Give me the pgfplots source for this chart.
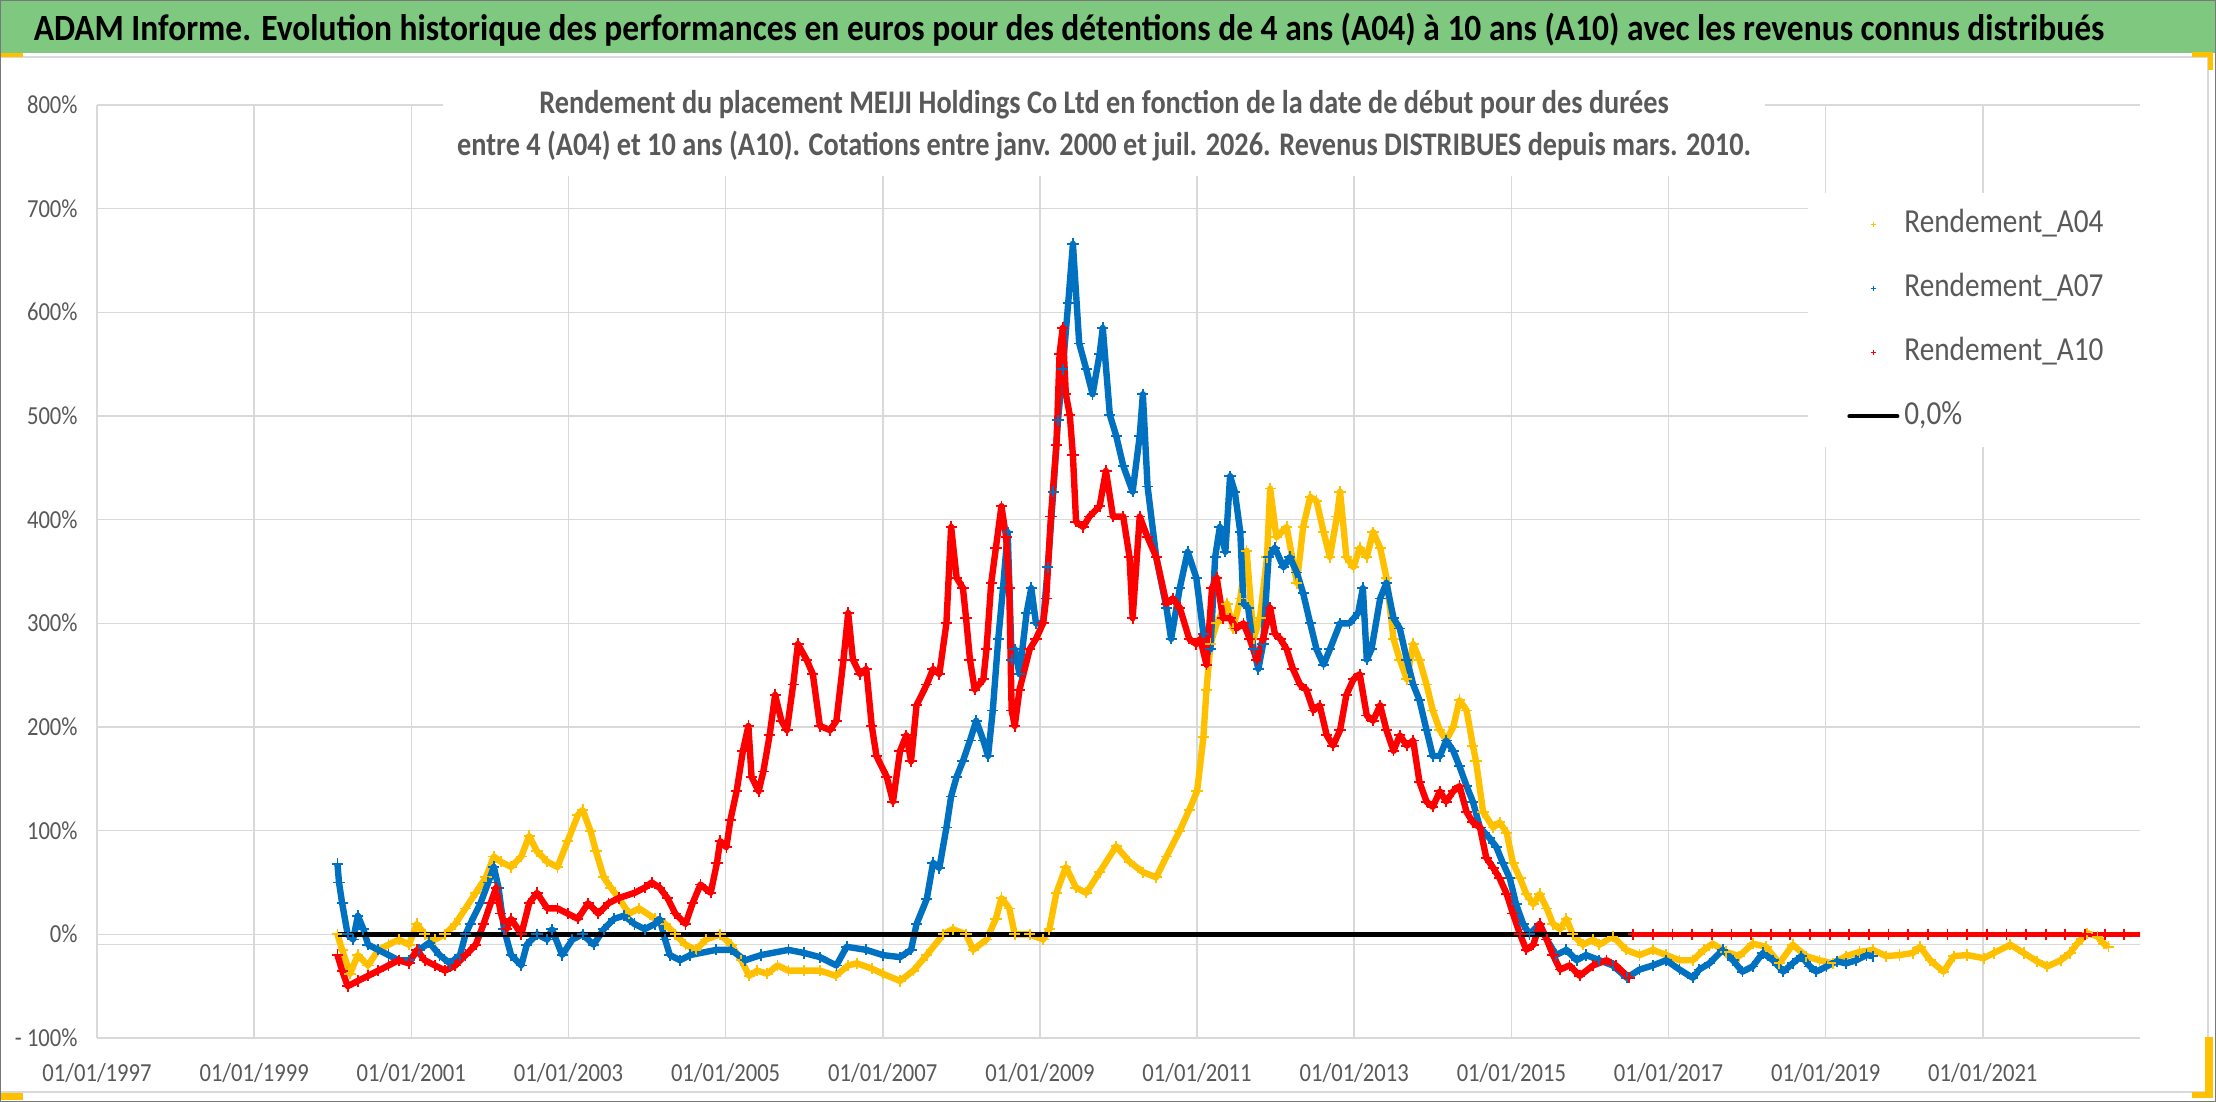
\documentclass[border=0pt]{standalone}
\usepackage{fontspec}
\setmainfont{Carlito}
\newfontfamily\tickf{Carlito}[FakeStretch=0.87]
\newfontfamily\legf{Carlito}[FakeStretch=0.87]
\newfontfamily\subf{Carlito}[FakeStretch=0.857]
\newfontfamily\titf{Carlito}[FakeStretch=0.905]
\usepackage{pgfplots}
\pgfplotsset{compat=1.18}
\usepackage{pgfplotstable}

\definecolor{cYel}{RGB}{255,192,0}
\definecolor{cBlu}{RGB}{0,112,192}
\definecolor{cRed}{RGB}{255,0,0}
\definecolor{cTxt}{RGB}{89,89,89}
\definecolor{cGrid}{RGB}{217,217,217}
\definecolor{cGreen}{RGB}{126,200,128}
\definecolor{cFrame}{RGB}{120,120,120}
\definecolor{cHandle}{RGB}{255,192,0}

\pgfplotsset{
  markleg/.style={legend image code/.code={\path (0pt,0pt) (24pt,0pt); \draw[##1, mark size=1.4pt, mark options={line width=0.6pt}] plot coordinates {(12pt,0pt)};}},
  lineleg/.style={legend image code/.code={\draw[##1, line width=2pt, line cap=round] (0pt,0pt) -- (24pt,0pt);}},
  bandline/.style={line width=3.2pt, line join=round, forget plot},
  bandmarks/.style={only marks, mark=+, mark size=2.8pt, mark options={line width=0.9pt}, markleg},
}

\pgfplotstableread{
x y
2000.06 0
2000.12 -15
2000.22 -38
2000.32 -20
2000.45 -30
2000.58 -15
2000.71 -10
2000.84 -5
2000.97 -10
2001.07 10
2001.17 0
2001.30 -5
2001.43 0
2001.56 10
2001.69 25
2001.82 40
2001.95 55
2002.05 75
2002.14 70
2002.27 65
2002.40 75
2002.50 95
2002.60 80
2002.73 70
2002.86 65
2002.99 90
2003.12 115
2003.18 120
2003.28 100
2003.35 80
2003.45 55
2003.54 45
2003.64 35
2003.77 20
2003.90 25
2004.10 15
2004.23 10
2004.36 0
2004.49 -10
2004.62 -15
2004.75 -5
2004.93 0
2005.07 -10
2005.20 -25
2005.30 -40
2005.40 -35
2005.53 -38
2005.66 -30
2005.80 -35
2006.00 -35
2006.20 -35
2006.40 -40
2006.56 -30
2006.67 -28
2006.86 -33
2007.00 -38
2007.22 -45
2007.39 -35
2007.56 -20
2007.77 0
2007.89 5
2008.06 0
2008.15 -15
2008.32 -5
2008.44 15
2008.51 35
2008.61 25
2008.68 0
2008.87 0
2009.04 -5
2009.12 5
2009.21 40
2009.33 65
2009.46 45
2009.59 40
2009.76 60
2009.97 85
2010.14 70
2010.31 60
2010.48 55
2010.61 75
2010.78 100
2010.90 120
2011.00 138
2011.08 190
2011.12 236
2011.17 280
2011.25 300
2011.38 319
2011.46 295
2011.55 324
2011.63 370
2011.72 285
2011.80 305
2011.89 364
2011.93 430
2012.01 383
2012.14 393
2012.27 339
2012.35 393
2012.44 422
2012.52 418
2012.61 388
2012.69 364
2012.78 403
2012.82 427
2012.90 364
2012.99 354
2013.07 373
2013.16 364
2013.24 388
2013.33 373
2013.41 344
2013.50 285
2013.58 265
2013.67 246
2013.75 280
2013.83 265
2013.92 241
2014.00 216
2014.09 197
2014.17 187
2014.26 200
2014.34 226
2014.43 216
2014.51 182
2014.55 167
2014.64 118
2014.77 103
2014.85 108
2014.94 98
2015.02 69
2015.11 54
2015.19 39
2015.28 29
2015.36 39
2015.45 25
2015.53 10
2015.62 5
2015.70 15
2015.78 0
2015.91 -10
2016.04 -5
2016.12 -10
2016.29 -2
2016.46 -15
2016.63 -20
2016.80 -15
2016.97 -20
2017.14 -25
2017.31 -25
2017.45 -15
2017.56 -9
2017.73 -17
2017.90 -21
2018.07 -9
2018.24 -12
2018.41 -28
2018.58 -10
2018.75 -21
2018.92 -25
2019.09 -28
2019.26 -21
2019.43 -17
2019.60 -15
2019.77 -21
2019.94 -20
2020.11 -18
2020.20 -12
2020.33 -25
2020.50 -36
2020.63 -21
2020.80 -20
2021.01 -23
2021.14 -18
2021.35 -10
2021.52 -18
2021.69 -26
2021.82 -31
2021.99 -25
2022.11 -18
2022.20 -9
2022.33 1
2022.46 -2
2022.54 -9
2022.60 -12
}\datYel

\pgfplotstableread{
x y
2000.06 68
2000.08 50
2000.12 30
2000.19 0
2000.26 -5
2000.32 18
2000.39 5
2000.45 -10
2000.58 -15
2000.71 -20
2000.84 -25
2000.97 -25
2001.10 -15
2001.23 -8
2001.36 -20
2001.49 -28
2001.62 -20
2001.69 0
2001.75 10
2001.88 30
2001.98 50
2002.05 65
2002.11 45
2002.18 5
2002.27 -20
2002.40 -30
2002.47 -10
2002.60 0
2002.73 -5
2002.79 5
2002.92 -20
2003.05 -5
2003.18 0
2003.32 -10
2003.45 5
2003.58 15
2003.71 18
2003.84 10
2003.97 5
2004.10 10
2004.16 15
2004.23 -5
2004.29 -20
2004.42 -25
2004.55 -20
2004.88 -15
2005.07 -15
2005.25 -25
2005.45 -20
2005.80 -15
2006.00 -18
2006.20 -22
2006.41 -30
2006.54 -12
2006.79 -15
2007.00 -20
2007.22 -22
2007.36 -15
2007.43 10
2007.56 34
2007.64 69
2007.72 64
2007.81 103
2007.87 133
2007.94 152
2008.02 167
2008.11 187
2008.19 206
2008.28 187
2008.34 172
2008.40 216
2008.47 285
2008.53 334
2008.59 388
2008.64 265
2008.68 275
2008.74 251
2008.83 310
2008.89 334
2008.95 300
2009.04 300
2009.10 354
2009.17 427
2009.23 496
2009.29 545
2009.36 609
2009.42 666
2009.50 570
2009.59 545
2009.67 521
2009.76 560
2009.80 585
2009.89 501
2009.97 481
2010.06 452
2010.18 427
2010.27 481
2010.31 521
2010.37 432
2010.48 364
2010.61 315
2010.67 285
2010.78 334
2010.88 369
2010.99 344
2011.08 290
2011.17 275
2011.23 364
2011.29 393
2011.36 369
2011.42 442
2011.48 427
2011.55 388
2011.59 319
2011.65 315
2011.72 275
2011.78 256
2011.84 280
2011.91 364
2011.99 373
2012.10 354
2012.18 364
2012.27 349
2012.35 329
2012.44 300
2012.52 275
2012.61 260
2012.69 275
2012.82 300
2012.94 300
2013.05 310
2013.11 334
2013.16 265
2013.22 275
2013.33 324
2013.41 339
2013.50 305
2013.58 295
2013.67 265
2013.75 241
2013.83 226
2013.92 197
2014.00 172
2014.09 172
2014.17 187
2014.26 177
2014.34 162
2014.43 143
2014.51 128
2014.60 103
2014.72 93
2014.81 84
2014.89 69
2014.98 54
2015.06 29
2015.15 10
2015.23 0
2015.36 10
2015.45 -5
2015.57 -20
2015.70 -15
2015.83 -25
2015.95 -20
2016.12 -25
2016.29 -30
2016.47 -42
2016.63 -34
2016.80 -30
2016.97 -25
2017.14 -34
2017.31 -42
2017.39 -34
2017.52 -28
2017.69 -15
2017.82 -25
2017.94 -36
2018.07 -31
2018.20 -18
2018.33 -25
2018.46 -36
2018.58 -28
2018.69 -21
2018.80 -31
2018.88 -36
2019.01 -31
2019.14 -26
2019.26 -28
2019.39 -25
2019.52 -20
2019.60 -21
}\datBlu

\pgfplotstableread{
x y
2000.06 -20
2000.12 -35
2000.19 -50
2000.32 -45
2000.45 -40
2000.58 -35
2000.71 -30
2000.84 -25
2000.97 -28
2001.07 -15
2001.17 -25
2001.30 -30
2001.43 -35
2001.56 -30
2001.69 -20
2001.82 -10
2001.92 10
2002.01 30
2002.08 45
2002.14 20
2002.21 5
2002.27 15
2002.40 0
2002.50 30
2002.60 40
2002.73 25
2002.86 25
2002.99 20
2003.12 15
2003.25 30
2003.38 20
2003.51 30
2003.64 35
2003.84 40
2003.97 45
2004.06 50
2004.16 45
2004.26 35
2004.36 20
2004.49 10
2004.58 30
2004.68 48
2004.81 40
2004.89 69
2004.93 90
2005.01 84
2005.06 110
2005.14 138
2005.22 177
2005.29 201
2005.33 152
2005.42 138
2005.48 157
2005.56 192
2005.63 231
2005.71 206
2005.78 197
2005.86 241
2005.92 280
2006.03 265
2006.11 251
2006.20 201
2006.33 197
2006.41 206
2006.50 265
2006.56 310
2006.62 265
2006.71 251
2006.79 256
2006.86 201
2006.92 172
2007.05 152
2007.13 128
2007.22 177
2007.30 192
2007.36 167
2007.43 221
2007.56 241
2007.64 256
2007.72 251
2007.81 300
2007.87 393
2007.94 344
2008.02 334
2008.06 305
2008.11 265
2008.17 236
2008.28 246
2008.32 275
2008.38 339
2008.44 373
2008.51 413
2008.57 383
2008.61 334
2008.64 216
2008.68 201
2008.74 236
2008.87 275
2008.95 285
2009.04 300
2009.08 324
2009.14 403
2009.21 472
2009.25 560
2009.29 585
2009.33 521
2009.38 501
2009.42 462
2009.46 398
2009.55 393
2009.63 403
2009.76 413
2009.84 447
2009.93 403
2010.06 403
2010.14 364
2010.18 305
2010.27 403
2010.37 383
2010.48 364
2010.61 319
2010.69 324
2010.78 315
2010.90 285
2010.99 280
2011.04 285
2011.12 260
2011.19 334
2011.25 344
2011.33 305
2011.42 305
2011.50 295
2011.59 300
2011.67 285
2011.76 265
2011.84 285
2011.93 315
2011.99 290
2012.06 285
2012.14 275
2012.22 256
2012.31 241
2012.39 236
2012.48 216
2012.56 221
2012.65 192
2012.73 182
2012.82 197
2012.90 231
2012.99 246
2013.07 251
2013.16 211
2013.24 206
2013.33 221
2013.41 197
2013.50 177
2013.58 192
2013.67 182
2013.75 187
2013.83 147
2013.92 128
2014.00 123
2014.09 138
2014.17 128
2014.26 138
2014.34 143
2014.43 118
2014.51 108
2014.60 103
2014.68 74
2014.77 64
2014.85 54
2014.94 39
2015.02 20
2015.11 0
2015.19 -15
2015.28 -10
2015.36 10
2015.45 -5
2015.53 -20
2015.62 -34
2015.74 -30
2015.87 -40
2016.04 -30
2016.21 -25
2016.33 -30
2016.50 -42
}\datRed

\pgfplotstableread{
x y
2016.55 0
2016.80 0
2017.05 0
2017.30 0
2017.55 0
2017.80 0
2018.05 0
2018.30 0
2018.55 0
2018.80 0
2019.05 0
2019.30 0
2019.55 0
2019.80 0
2020.05 0
2020.30 0
2020.55 0
2020.80 0
2021.05 0
2021.30 0
2021.55 0
2021.80 0
2022.05 0
2022.30 0
2022.55 0
2022.80 0
2023.03 0
}\datRedZero

\begin{document}
\begin{tikzpicture}[x=1pt,y=1pt]
% page background and size
\fill[white] (0,0) rectangle (1108,551);
\useasboundingbox (0,0) rectangle (1108,551);
% green title band
\fill[cGreen] (0,524.5) rectangle (1108,551);
% chart area borders
\draw[cGrid, line width=0.8pt] (0,522.5) -- (1104,522.5) -- (1104,5) -- (0,5);

\begin{axis}[
  at={(48.5pt,32pt)}, anchor=south west,
  scale only axis, width=1021.5pt, height=466.5pt,
  xmin=1997, xmax=2023, ymin=-100, ymax=800,
  axis line style={draw=none},
  major tick length=0pt,
  grid=major,
  major grid style={cGrid, line width=0.8pt},
  xtick={1997,1999,...,2021},
  xticklabels={01/01/1997,01/01/1999,01/01/2001,01/01/2003,01/01/2005,01/01/2007,01/01/2009,01/01/2011,01/01/2013,01/01/2015,01/01/2017,01/01/2019,01/01/2021},
  ytick={-100,0,100,200,300,400,500,600,700,800},
  yticklabels={- 100\%,0\%,100\%,200\%,300\%,400\%,500\%,600\%,700\%,800\%},
  extra y ticks={-10},
  extra y tick labels={},
  extra y tick style={grid=major, major grid style={cGrid, line width=0.8pt}},
  tick label style={font=\tickf\fontsize{13}{15}\selectfont, text=cTxt, inner sep=0pt},
  x tick label style={anchor=base, yshift=-21.8pt},
  y tick label style={anchor=base east, xshift=-9.5pt, yshift=-4.2pt},
  legend style={at={(axis description cs:0.8375,0.9057)}, anchor=north west,
    fill=white, draw=none, inner xsep=19.5pt, inner ysep=7.5pt,
    font=\legf\fontsize{16.8}{19}\selectfont, text=cTxt,
    row sep=16pt, column sep=2.5pt,
    nodes={inner sep=0pt, text height=12pt, text depth=4pt}},
  legend cell align=left,
]
% A04
\addplot[cYel, bandline] table {\datYel};
\addplot[cYel, bandmarks] table {\datYel};
\addlegendentry{Rendement\_A04}
% A07
\addplot[cBlu, bandline] table {\datBlu};
\addplot[cBlu, bandmarks] table {\datBlu};
\addlegendentry{Rendement\_A07}
% A10
\addplot[cRed, bandline] table {\datRed};
\addplot[cRed, bandmarks] table {\datRed};
\addlegendentry{Rendement\_A10}
\addplot[cRed, line width=2.8pt, mark=+, mark size=2.8pt, mark options={line width=0.9pt}, forget plot] table {\datRedZero};
% zero line
\addplot[black, line width=2.5pt, lineleg] coordinates {(2000.05,0) (2016.55,0)};
\addlegendentry{0,0\%}
\end{axis}

% subtitle box and text
\fill[white] (221.5,463) rectangle (882.5,512);
\node[anchor=base, inner sep=0pt, text=cTxt, font=\subf\bfseries\fontsize{16.5}{19}\selectfont] at (552,494.35)
 {Rendement du placement MEIJI Holdings Co Ltd en fonction de la date de début pour des durées};
\node[anchor=base, inner sep=0pt, text=cTxt, font=\subf\bfseries\fontsize{16.5}{19}\selectfont] at (552,473)
 {entre 4 (A04) et 10 ans (A10). Cotations entre janv. 2000 et juil. 2026. Revenus DISTRIBUES depuis mars. 2010.};

% main title
\node[anchor=base, inner sep=0pt, text=black, font=\titf\bfseries\fontsize{18.5}{21}\selectfont] at (534.5,530.65)
 {ADAM Informe. Evolution historique des performances en euros pour des détentions de 4 ans (A04) à 10 ans (A10) avec les revenus connus distribués};

% selection handles
\fill[cHandle] (0,522.5) rectangle (11.5,524.5);
\fill[cHandle] (0,1) rectangle (11.5,4.5);
\fill[cHandle] (1096,522.5) rectangle (1106.5,525);
\fill[cHandle] (1104,516) rectangle (1106.5,525);
\fill[cHandle] (1102.5,2) rectangle (1106.5,32.5);
\fill[cHandle] (1096,2) rectangle (1106.5,5);

% outer frame
\draw[cFrame, line width=0.6pt] (0.3,0.3) rectangle (1107.7,550.7);
\end{tikzpicture}
\end{document}
